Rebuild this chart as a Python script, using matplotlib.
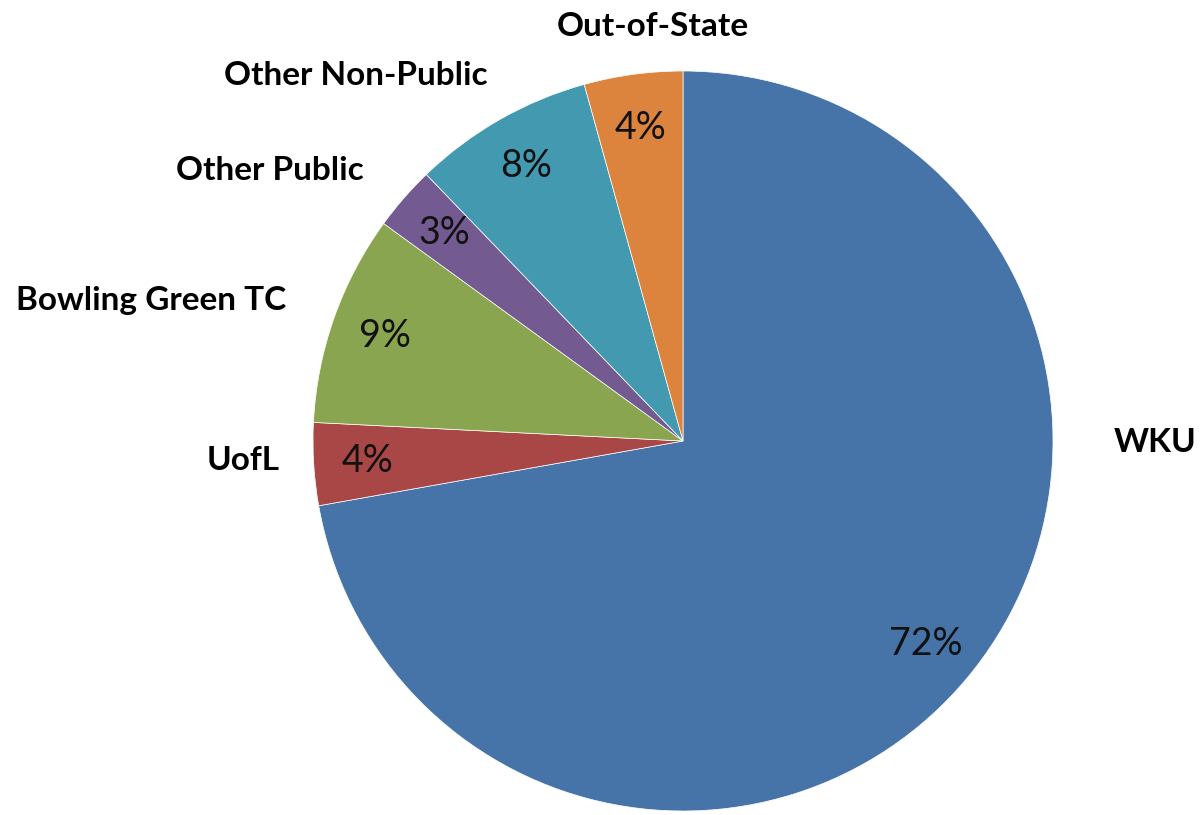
import matplotlib
matplotlib.use("Agg")
import matplotlib.pyplot as plt

# Destination of students (share of total, %)
categories = ["WKU", "UofL", "Bowling Green TC", "Other Public",
              "Other Non-Public", "Out-of-State"]
shares = [72.2, 3.6, 9.2, 2.8, 7.9, 4.3]
colors = ["#4674A8", "#A94646", "#8AA54F", "#735A91", "#4399B0", "#DC843E"]

# outside category label anchors (data units, pie radius = 1)
label_pos = [(1.276, -0.005), (-1.189, -0.054), (-1.438, 0.381),
             (-1.116, 0.732), (-0.884, 0.989), (-0.081, 1.119)]

W, H, DPI = 1202, 815, 100
cx, cy, R = 683, 441, 370

fig = plt.figure(figsize=(W / DPI, H / DPI), dpi=DPI)
ax = fig.add_axes([0, 0, 1, 1])

wedges, _, pcts = ax.pie(
    shares, colors=colors, startangle=90, counterclock=False,
    autopct="%1.0f%%", pctdistance=0.855, radius=1,
    wedgeprops=dict(edgecolor="white", linewidth=0.5),
    textprops=dict(family="Lato", fontweight="normal", fontsize=27, color="#111111"),
)

for (x, y), name in zip(label_pos, categories):
    ax.text(x, y, name, ha="center", va="center", fontsize=24,
            fontweight="bold", family="Lato", color="black")

ax.set_xlim(-cx / R, (W - cx) / R)
ax.set_ylim((cy - H) / R, cy / R)
ax.set_aspect("auto")
ax.axis("off")

fig.savefig("out.png", dpi=DPI, facecolor="white")
